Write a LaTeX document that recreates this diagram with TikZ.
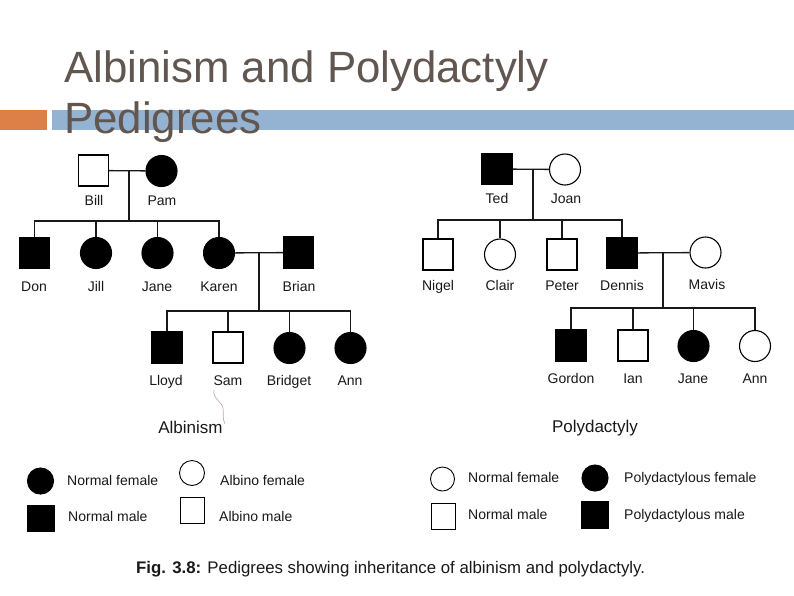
\documentclass[tikz,border=0pt]{standalone}
\usepackage{fontspec}
\setmainfont{Liberation Sans}
\definecolor{titlecol}{RGB}{98,86,80}
\definecolor{orangebar}{RGB}{221,128,71}
\definecolor{bluebar}{RGB}{148,179,211}
\definecolor{scanmark}{RGB}{200,160,170}
\begin{document}
\begin{tikzpicture}[x=1pt,y=-1pt,
  male/.style={draw=black,rectangle,line width=1.1pt,minimum width=30pt,minimum height=31pt,inner sep=0pt,fill=white},
  female/.style={draw=black,circle,line width=1.1pt,minimum size=31pt,inner sep=0pt,fill=white},
  aff/.style={fill=black},
  conn/.style={line width=1.3pt,draw=black!90},
  pname/.style={anchor=base,font=\fontsize{14}{16}\selectfont,text=black!90,inner sep=0pt},
  legtxt/.style={anchor=base west,font=\fontsize{14}{16}\selectfont,text=black!90,inner sep=0pt},
  captxt/.style={anchor=base,font=\fontsize{17}{19}\selectfont,text=black!90,inner sep=0pt},
  titletxt/.style={anchor=base west,inner sep=0pt,text=titlecol,font=\fontsize{43.8}{51}\selectfont}]
\useasboundingbox (0,0) rectangle (794,595);
\fill[white] (0,0) rectangle (794,595);
% title bars
\fill[orangebar] (0,110) rectangle (47,130);
\fill[bluebar] (52,110) rectangle (794,130);
\node[titletxt] (t1) at (64,82) {Albinism and Polydactyly};
\node[titletxt] (t2) at (64,133) {Pedigrees};

% ---------- Albinism pedigree ----------
\node[male] (bill) at (93.5,170.5) {};
\node[female,aff] (pam) at (161.5,171) {};
\coordinate (m1) at (129,171);
\coordinate (s1) at (129,221);
\node[male,aff] (don) at (34.5,253) {};
\node[female,aff] (jill) at (96,253) {};
\node[female,aff] (jane) at (157.5,253) {};
\node[female,aff] (karen) at (219,253) {};
\node[male,aff] (brian) at (298.5,252.5) {};
\coordinate (m2) at (259,253);
\coordinate (s2) at (259,311);
\node[male,aff] (lloyd) at (167,347.5) {};
\node[male] (sam) at (228,347.5) {};
\node[female,aff] (bridget) at (289.5,348) {};
\node[female,aff] (ann) at (350.5,348) {};

\draw[conn] (bill) -- (pam);
\draw[conn] (m1) -- (s1);
\draw[conn] (don.north) -- (don.north |- s1) -- (karen.north |- s1) -- (karen.north);
\draw[conn] (jill.north) -- (jill.north |- s1);
\draw[conn] (jane.north) -- (jane.north |- s1);
\draw[conn] (karen) -- (brian);
\draw[conn] (m2) -- (s2);
\draw[conn] (lloyd.north) -- (lloyd.north |- s2) -- (ann.north |- s2) -- (ann.north);
\draw[conn] (sam.north) -- (sam.north |- s2);
\draw[conn] (bridget.north) -- (bridget.north |- s2);

\node[pname] (lbill) at (94,205) {Bill};
\node[pname] (lpam) at (162,205) {Pam};
\node[pname] (ldon) at (34,291) {Don};
\node[pname] (ljill) at (96,291) {Jill};
\node[pname] (ljane) at (157,291) {Jane};
\node[pname] (lkaren) at (219,291) {Karen};
\node[pname] (lbrian) at (299,291) {Brian};
\node[pname] (llloyd) at (166,385) {Lloyd};
\node[pname] (lsam) at (228,385) {Sam};
\node[pname] (lbridget) at (289,385) {Bridget};
\node[pname] (lann) at (350,385) {Ann};

% scan mark
\draw[line width=0.6pt,scanmark] (214,390) .. controls (212,398) and (222,402) .. (223,408) .. controls (224,414) and (222,418) .. (225,424);

\node[captxt] (calb) at (190.5,433) {Albinism};

% ---------- Polydactyly pedigree ----------
\node[male,aff] (ted) at (497,169) {};
\node[female] (joan) at (565,169.5) {};
\coordinate (m3) at (533,169);
\coordinate (s3) at (533,220);
\node[male] (nigel) at (438,254.5) {};
\node[female] (clair) at (500,254.5) {};
\node[male] (peter) at (562,254.5) {};
\node[male,aff] (dennis) at (622,253) {};
\node[female] (mavis) at (705.5,252.5) {};
\coordinate (m4) at (663,252);
\coordinate (s4) at (663,308);
\node[male,aff] (gordon) at (571,345.5) {};
\node[male] (ian) at (633,345.5) {};
\node[female,aff] (jane2) at (693.5,346) {};
\node[female] (ann2) at (755,346) {};

\draw[conn] (ted) -- (joan);
\draw[conn] (m3) -- (s3);
\draw[conn] (nigel.north) -- (nigel.north |- s3) -- (dennis.north |- s3) -- (dennis.north);
\draw[conn] (clair.north) -- (clair.north |- s3);
\draw[conn] (peter.north) -- (peter.north |- s3);
\draw[conn] (dennis) -- (mavis);
\draw[conn] (m4) -- (s4);
\draw[conn] (gordon.north) -- (gordon.north |- s4) -- (ann2.north |- s4) -- (ann2.north);
\draw[conn] (ian.north) -- (ian.north |- s4);
\draw[conn] (jane2.north) -- (jane2.north |- s4);

\node[pname] (lted) at (497,203) {Ted};
\node[pname] (ljoan) at (566,203) {Joan};
\node[pname] (lnigel) at (438,290) {Nigel};
\node[pname] (lclair) at (500,290) {Clair};
\node[pname] (lpeter) at (562,290) {Peter};
\node[pname] (ldennis) at (622,290) {Dennis};
\node[pname] (lmavis) at (707,289) {Mavis};
\node[pname] (lgordon) at (571,383) {Gordon};
\node[pname] (lian) at (633,383) {Ian};
\node[pname] (ljane2) at (693,383) {Jane};
\node[pname] (lann2) at (755,383) {Ann};

\node[captxt] (cpoly) at (595,432) {Polydactyly};

% ---------- legends ----------
\node[female,aff,minimum size=26pt] (k1) at (40.5,481) {};
\node[legtxt] (k1t) at (67,485) {Normal female};
\node[male,aff,minimum width=26pt,minimum height=25pt] (k2) at (41,518.5) {};
\node[legtxt] (k2t) at (68,521.5) {Normal male};
\node[female,minimum size=25pt,line width=0.9pt] (k3) at (192,473) {};
\node[legtxt] (k3t) at (220,485) {Albino female};
\node[male,minimum width=24pt,minimum height=26pt,line width=0.9pt] (k4) at (192,510) {};
\node[legtxt] (k4t) at (219,521) {Albino male};

\node[female,minimum size=24pt,line width=0.9pt] (p1) at (442.5,479) {};
\node[legtxt] (p1t) at (468,482) {Normal female};
\node[male,minimum width=24pt,minimum height=26pt,line width=0.9pt] (p2) at (443,516) {};
\node[legtxt] (p2t) at (468,519) {Normal male};
\node[female,aff,minimum size=26pt] (p3) at (595,478) {};
\node[legtxt] (p3t) at (624,482) {Polydactylous female};
\node[male,aff,minimum width=26pt,minimum height=26pt] (p4) at (595,515) {};
\node[legtxt] (p4t) at (624,519) {Polydactylous male};

\node[anchor=base west,inner sep=0pt,font=\fontsize{16.8}{19}\selectfont,text=black!90] (fig) at (136,573) {\textbf{Fig. 3.8:} Pedigrees showing inheritance of albinism and polydactyly.};
\end{tikzpicture}
\end{document}
